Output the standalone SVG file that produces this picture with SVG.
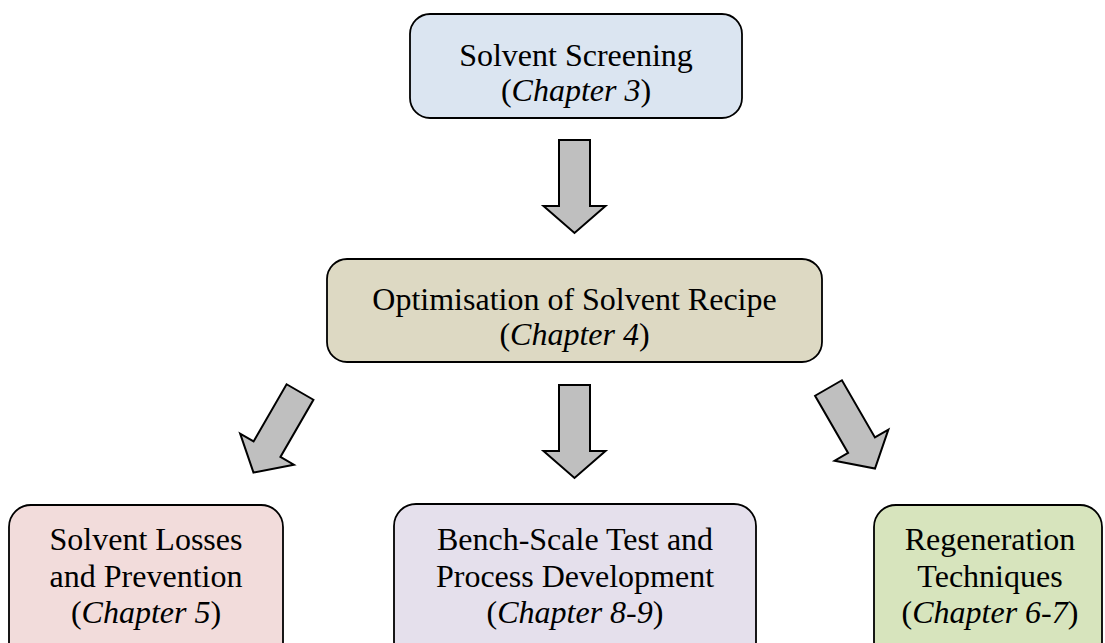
<svg xmlns="http://www.w3.org/2000/svg" width="1105" height="643" viewBox="0 0 1105 643">
<style>
.box{stroke:#000;stroke-width:1.8}
.t{font-family:"Liberation Serif","Times New Roman",serif;font-size:32px;fill:#000;text-anchor:middle}
.i{font-style:italic}
.arr{fill:#bfbfbf;stroke:#000;stroke-width:2;stroke-linejoin:miter}
</style>
<defs>
<path id="arrow" d="M-15.5,0 L15.5,0 L15.5,66 L31,66 L0,93 L-31,66 L-15.5,66 Z"/>
</defs>
<rect width="1105" height="643" fill="#fff"/>
<g id="connectors">
<use href="#arrow" class="arr" transform="translate(574.5,140)"/>
<use href="#arrow" class="arr" transform="translate(574.5,385)"/>
<use href="#arrow" class="arr" transform="translate(300,392) rotate(30)"/>
<use href="#arrow" class="arr" transform="translate(828.5,388) rotate(-30)"/>
</g>
<g id="n1">
<rect class="box" x="410" y="14" width="332" height="104" rx="20" fill="#dbe5f1"/>
<text class="t" x="576" y="66">Solvent Screening</text>
<text class="t" x="576" y="101">(<tspan class="i">Chapter 3</tspan>)</text>
</g>
<g id="n2">
<rect class="box" x="327" y="259" width="495" height="103" rx="20" fill="#ddd9c3"/>
<text class="t" x="574.5" y="310">Optimisation of Solvent Recipe</text>
<text class="t" x="574.5" y="345">(<tspan class="i">Chapter 4</tspan>)</text>
</g>
<g id="n3">
<rect class="box" x="9" y="505" width="274" height="160" rx="22" fill="#f2dcdb"/>
<text class="t" x="146" y="550">Solvent Losses</text>
<text class="t" x="146" y="587">and Prevention</text>
<text class="t" x="146" y="623">(<tspan class="i">Chapter 5</tspan>)</text>
</g>
<g id="n4">
<rect class="box" x="394" y="504" width="362" height="160" rx="22" fill="#e5e0ec"/>
<text class="t" x="575" y="550">Bench-Scale Test and</text>
<text class="t" x="575" y="587">Process Development</text>
<text class="t" x="575" y="623">(<tspan class="i">Chapter 8-9</tspan>)</text>
</g>
<g id="n5">
<rect class="box" x="874" y="505" width="228" height="160" rx="22" fill="#d7e4bd"/>
<text class="t" x="990" y="550">Regeneration</text>
<text class="t" x="990" y="587">Techniques</text>
<text class="t" x="990" y="623">(<tspan class="i">Chapter 6-7</tspan>)</text>
</g>
</svg>
